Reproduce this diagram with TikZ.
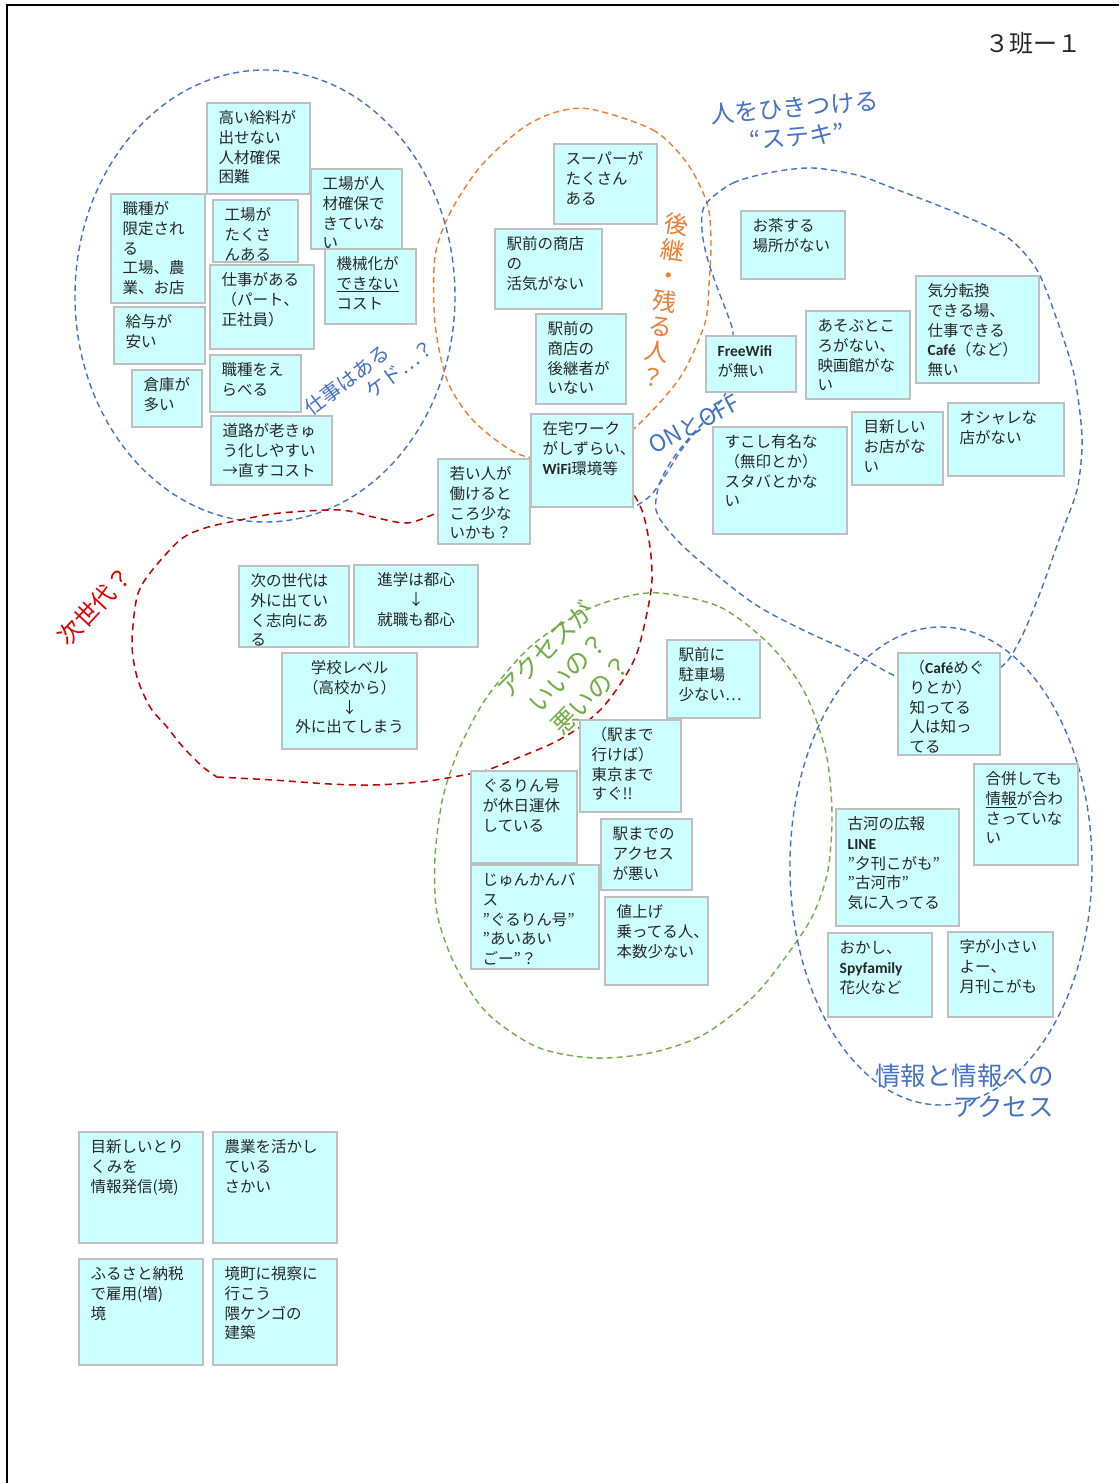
\documentclass[tikz,border=0pt]{standalone}
\usepackage{fontspec}
\setmainfont{Noto Sans CJK JP}
\newfontfamily\latbf{Carlito}
\newcommand\lb[1]{{\latbf\bfseries #1}}
\definecolor{cblue}{HTML}{4472C4}
\definecolor{corange}{HTML}{ED7D31}
\definecolor{cgreen}{HTML}{70AD47}
\definecolor{cred}{HTML}{C00000}
\definecolor{credlbl}{HTML}{E00000}
\definecolor{cnote}{HTML}{CCFFFF}
\definecolor{cnoteline}{HTML}{BFBFBF}
\definecolor{ctext}{HTML}{262626}
\newcommand\fls{\rule{0pt}{13.6pt}}
\newcommand\stickyNote[6]{%
  \draw[notebox] (#2,#3) rectangle (#4,#5);
  \node[notetext, anchor=north west] (#1) at (#2,#3) {\fls#6};}
\newcommand\stickyNoteC[6]{%
  \draw[notebox] (#2,#3) rectangle (#4,#5);
  \node[notetext, align=center, anchor=north] (#1) at ({(#2+#4)/2},#3) {\fls#6};}
\tikzset{
  notebox/.style={fill=cnote, draw=cnoteline, line width=1.3pt},
  notetext/.style={align=left, inner xsep=11.5pt, inner ysep=7pt, text=ctext,
    font=\fontsize{15.5}{19.6}\selectfont},
  bluedash/.style={draw=cblue, line width=1.4pt, dash pattern=on 6pt off 4pt},
  orangedash/.style={draw=corange, line width=1.4pt, dash pattern=on 6pt off 4pt},
  greendash/.style={draw=cgreen, line width=1.4pt, dash pattern=on 6pt off 4pt},
  reddash/.style={draw=cred, line width=1.5pt, dash pattern=on 7pt off 5pt},
  lbl/.style={inner sep=0pt, align=center},
}
\begin{document}
\begin{tikzpicture}[x=1pt,y=-1pt]
\useasboundingbox (0,0) rectangle (1119,1483);
\fill[white] (0,0) rectangle (1119,1483);
\draw[line width=2pt, black] (7.3,1483) -- (7.3,5) -- (1119,5);

% ---- group outlines ----
\draw[bluedash] (265,296) ellipse [x radius=190, y radius=226];
\draw[orangedash] plot[smooth cycle] coordinates {(590,109) (653,130) (687,163) (707,203) (711,240) (709,285) (705,323) (683,373) (653,410) (620,440) (580,458) (528,457) (500,443) (470,417) (447,380) (435,323) (435,257) (450,213) (480,167) (520,130) (553,113)};
\draw[bluedash] plot[smooth cycle] coordinates {(705,205) (733,183) (773,172) (813,168) (857,175) (890,187) (957,213) (1007,237) (1037,270) (1057,320) (1073,370) (1080,413) (1082,447) (1077,490) (1060,537) (1040,593) (1020,640) (1000,668) (950,690) (898,677) (853,653) (803,630) (753,603) (695,557) (668,530) (656,510) (659,485) (672,460) (690,437) (710,415) (727,390) (730,360) (733,333) (727,313) (717,287) (707,257) (702,230)};
\draw[bluedash] plot[smooth] coordinates {(716,408) (697,430) (680,452) (665,476) (650,496) (633,508)};
\draw[reddash] plot[smooth] coordinates {(445,510) (437,513) (407,523) (373,517) (340,510) (280,513) (240,520) (205,528) (180,540) (150,573) (137,597) (132,643) (137,677) (150,707) (167,727) (183,747) (203,767) (217,777)};
\draw[reddash] plot[smooth] coordinates {(217,777) (273,780) (330,784) (373,785) (420,782) (453,777) (487,770) (520,757) (553,743) (580,727) (603,707) (623,680) (637,653) (647,613) (652,580) (650,547) (643,513) (633,493)};
\draw[greendash] plot[smooth cycle] coordinates {(660,593) (720,607) (770,645) (805,693) (826,753) (832,813) (828,870) (813,915) (787,955) (753,997) (703,1035) (650,1053) (593,1058) (537,1047) (487,1013) (455,965) (437,913) (435,857) (443,797) (460,747) (487,697) (530,647) (580,613) (620,598)};
\draw[bluedash] (941,866) ellipse [x radius=151, y radius=239];

% ---- sticky notes ----
\stickyNote{n1}{207}{103}{310}{194}{高い給料が\\出せない\\人材確保\\困難}
\stickyNote{n2}{311}{169}{402}{249}{工場が人\\材確保で\\きていな\\い}
\stickyNote{n3}{111}{194}{205}{303}{職種が\\限定され\\る\\工場、農\\業、お店}
\stickyNote{n4}{213}{200}{298}{262}{工場が\\たくさ\\んある}
\stickyNote{n5}{325}{249}{416}{324}{機械化が\\\underline{できない}\\コスト}
\stickyNote{n6}{210}{265}{314}{349}{仕事がある\\（パート、\\正社員）}
\stickyNote{n7}{114}{307}{205}{364}{給与が\\安い}
\stickyNote{n8}{210}{355}{301}{412}{職種をえ\\らべる}
\stickyNote{n9}{132}{370}{202}{427}{倉庫が\\多い}
\stickyNote{n10}{211}{416}{332}{485}{道路が老きゅ\\う化しやすい\\→直すコスト}
\stickyNote{n11}{554}{144}{657}{224}{スーパーが\\たくさん\\ある}
\stickyNote{n12}{495}{229}{602}{309}{駅前の商店\\の\\活気がない}
\stickyNote{n13}{536}{314}{626}{404}{駅前の\\商店の\\後継者が\\いない}
\stickyNote{n14}{531}{414}{633}{507}{在宅ワーク\\がしずらい、\\\lb{WiFi}環境等}
\stickyNote{n15}{438}{459}{530}{544}{若い人が\\働けると\\ころ少な\\いかも？}
\stickyNote{n16}{741}{211}{845}{279}{お茶する\\場所がない}
\stickyNote{n17}{916}{276}{1039}{383}{気分転換\\できる場、\\仕事できる\\\lb{Café}（など）\\無い}
\stickyNote{n18}{706}{336}{796}{392}{\lb{FreeWifi}\\が無い}
\stickyNote{n19}{806}{311}{910}{399}{あそぶとこ\\ろがない、\\映画館がな\\い}
\stickyNote{n20}{713}{427}{847}{534}{すこし有名な\\（無印とか）\\スタバとかな\\い}
\stickyNote{n21}{852}{412}{943}{485}{目新しい\\お店がな\\い}
\stickyNote{n22}{948}{403}{1064}{476}{オシャレな\\店がない}
\stickyNote{n23}{239}{566}{349}{647}{次の世代は\\外に出てい\\く志向にあ\\る}
\stickyNoteC{n24}{354}{565}{478}{647}{進学は都心\\↓\\就職も都心}
\stickyNoteC{n25}{282}{653}{417}{749}{学校レベル\\（高校から）\\↓\\外に出てしまう}
\stickyNote{n26}{667}{640}{760}{718}{駅前に\\駐車場\\少ない…}
\stickyNote{n27}{580}{720}{681}{812}{（駅まで\\行けば）\\東京まで\\すぐ!!}
\stickyNote{n28}{471}{771}{577}{863}{ぐるりん号\\が休日運休\\している}
\stickyNote{n29}{601}{819}{692}{890}{駅までの\\アクセス\\が悪い}
\stickyNote{n30}{471}{865}{599}{969}{じゅんかんバ\\ス\\"ぐるりん号"\\"あいあい\\ごー"？}
\stickyNote{n31}{605}{897}{708}{985}{値上げ\\乗ってる人、\\本数少ない}
\stickyNote{n32}{898}{653}{1000}{755}{（\lb{Café}めぐ\\りとか）\\知ってる\\人は知っ\\てる}
\stickyNote{n33}{974}{764}{1078}{865}{合併しても\\\underline{情報}が合わ\\さっていな\\い}
\stickyNote{n34}{836}{809}{959}{926}{古河の広報\\\lb{LINE}\\”夕刊こがも”\\"古河市"\\気に入ってる}
\stickyNote{n35}{828}{933}{932}{1017}{おかし、\\\lb{Spyfamily}\\花火など}
\stickyNote{n36}{948}{932}{1053}{1017}{字が小さい\\よー、\\月刊こがも}
\stickyNote{n37}{79}{1132}{203}{1243}{目新しいとり\\くみを\\情報発信(境)}
\stickyNote{n38}{213}{1132}{337}{1243}{農業を活かし\\ている\\さかい}
\stickyNote{n39}{79}{1259}{203}{1365}{ふるさと納税\\で雇用(増)\\境}
\stickyNote{n40}{213}{1259}{337}{1365}{境町に視察に\\行こう\\隈ケンゴの\\建築}

% ---- labels ----
\node[lbl, text=ctext, font=\fontsize{24}{28}\selectfont] (title) at (1033,43) {３班ー１};
\node[lbl, text=cblue, font=\fontsize{24}{29}\selectfont, rotate=5] (attract) at (796,122) {人をひきつける\\“ステキ”};
\node[lbl, text=corange, font=\fontsize{24}{25.7}\selectfont, rotate=-9] (succ) at (665,300) {後\\継\\・\\残\\る\\人\\？};
\node[lbl, text=cblue, font=\fontsize{20}{24}\selectfont, rotate=37] (work1) at (347,380) {仕事はある};
\node[lbl, text=cblue, font=\fontsize{20}{24}\selectfont, rotate=37] (work2) at (400,369) {ケド…？};
\node[lbl, text=cblue, font=\fontsize{23}{27}\selectfont, rotate=28] (onoff) at (694,424) {ONとOFF};
\node[lbl, text=credlbl, font=\fontsize{24}{28}\selectfont, rotate=47] (nextgen) at (95,606) {次世代？};
\node[lbl, text=cgreen, font=\fontsize{25}{32}\selectfont, rotate=45] (access) at (568,672) {アクセスが\\いいの？\\悪いの？};
\node[lbl, text=cblue, font=\fontsize{25.5}{31}\selectfont, align=right, anchor=north east] (info) at (1054,1064) {情報と情報への\\アクセス};
\end{tikzpicture}
\end{document}
